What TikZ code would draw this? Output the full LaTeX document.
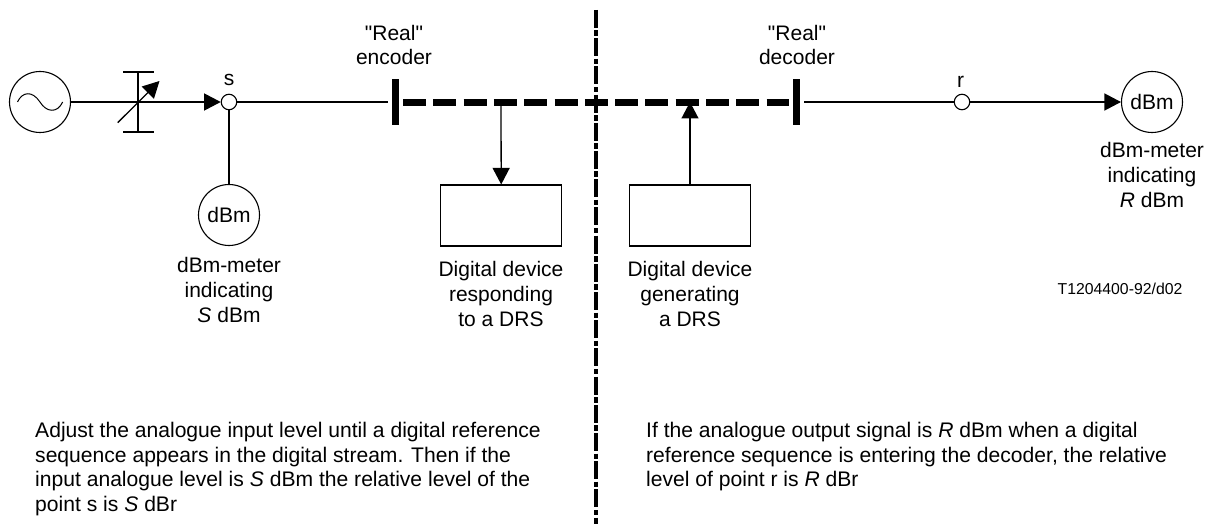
\documentclass[tikz,border=0pt]{standalone}
\usepackage{fontspec}
\setmainfont{Liberation Sans}[Ligatures=TeXOff]
\usetikzlibrary{arrows.meta}
\tikzset{
 wire/.style={line width=1.3pt},
 tip/.style={-{Triangle[length=16.5pt,width=17pt]}},
 ring/.style={circle,draw,line width=1.1pt,inner sep=0pt,minimum size=15.5pt,fill=white},
 meter/.style={circle,draw,line width=1.1pt,inner sep=0pt,minimum size=61pt,fill=white,font=\fontsize{21}{25}\selectfont},
 box/.style={rectangle,draw,line width=1.1pt,minimum width=121pt,minimum height=61pt,inner sep=0pt},
 lab/.style={align=center,font=\fontsize{21}{24.7}\selectfont,inner sep=0pt},
 para/.style={align=left,anchor=north west,font=\fontsize{21.1}{24.7}\selectfont,inner sep=0pt},
 thickdash/.style={line width=6.6pt,dash pattern=on 23pt off 7.3pt},
 barnode/.style={inner sep=0pt,minimum width=7pt,minimum height=46pt,fill=black},
}
\begin{document}
\begin{tikzpicture}[x=1pt,y=-1pt]
\useasboundingbox (0,0) rectangle (1216,524);
% source and meters
\node[circle,draw,line width=1.1pt,minimum size=61pt,inner sep=0pt] (src) at (40,102) {};
\draw[line width=1pt] (17.5,102) .. controls (22,92) and (32,90) .. (40,102) .. controls (46,112) and (57,114) .. (62.7,102);
\node[ring] (s) at (229,102) {};
\node[ring] (r) at (962,102) {};
\node[meter] (m1) at (229,215) {dBm};
\node[meter] (m2) at (1152,102) {dBm};
% attenuator
\coordinate (atop) at (138,72);
\coordinate (abot) at (138,132);
\draw[wire] (123,72) -- (154,72);
\draw[wire] (123,132) -- (154,132);
\draw[wire] (atop) -- (abot);
\coordinate (adl) at (117.7,122.7);
\coordinate (adr) at (159.5,81);
\draw[wire,tip] (adl) -- (adr);
% wires
\draw[wire,tip] (src.east) -- (s.west);
\draw[wire] (s.south) -- (m1.north);
\node[barnode] (enc) at (395.5,102) {};
\node[barnode] (dec) at (796,102) {};
\coordinate (encin) at (388,102);
\coordinate (decout) at (804,102);
\draw[wire] (s.east) -- (encin);
\draw[wire] (decout) -- (r.west);
\draw[wire,tip] (r.east) -- (m2.west);
% digital path
\coordinate (dstart) at (403,102.5);
\coordinate (dend) at (789,102.5);
\draw[thickdash] (dstart) -- (dend);
\coordinate (dn) at (501,102);
\coordinate (up) at (690,102);
\node[box] (bl) at (501.2,215.5) {};
\node[box] (br) at (690,215.5) {};
\draw[wire,tip] (dn) -- (bl.north);
\draw[wire,tip] (br.north) -- (up);
% divider
\coordinate (vtop) at (596,10);
\coordinate (vbot) at (596,524);
\draw[line width=4.2pt,dash pattern=on 18pt off 2.5pt on 5.5pt off 2.2pt] (vtop) -- (vbot);
% labels
\node[lab] (ls) at (229,80) {s};
\node[lab] (lr) at (960.5,81.5) {r};
\node[lab] (le) at (394,45) {"Real"\\encoder};
\node[lab] (ld) at (797,45) {"Real"\\decoder};
\node[lab] (lm1) at (229,290) {dBm-meter\\indicating\\\textit{S} dBm};
\node[lab] (lm2) at (1152,175) {dBm-meter\\indicating\\\textit{R} dBm};
\node[lab] (ll) at (501,294) {Digital device\\responding\\to a DRS};
\node[lab] (lg) at (690,294) {Digital device\\generating\\a DRS};
\node[lab,font=\fontsize{15.8}{18}\selectfont] (code) at (1120,288.5) {T1204400-92/d02};
\node[para] (pl) at (35,422) {Adjust the analogue input level until a digital reference\\sequence appears in the digital stream. Then if the\\input analogue level is \textit{S} dBm the relative level of the\\point s is \textit{S} dBr};
\node[para] (pr) at (646,422) {If the analogue output signal is \textit{R} dBm when a digital\\reference sequence is entering the decoder, the relative\\level of point r is \textit{R} dBr};
\end{tikzpicture}
\end{document}
